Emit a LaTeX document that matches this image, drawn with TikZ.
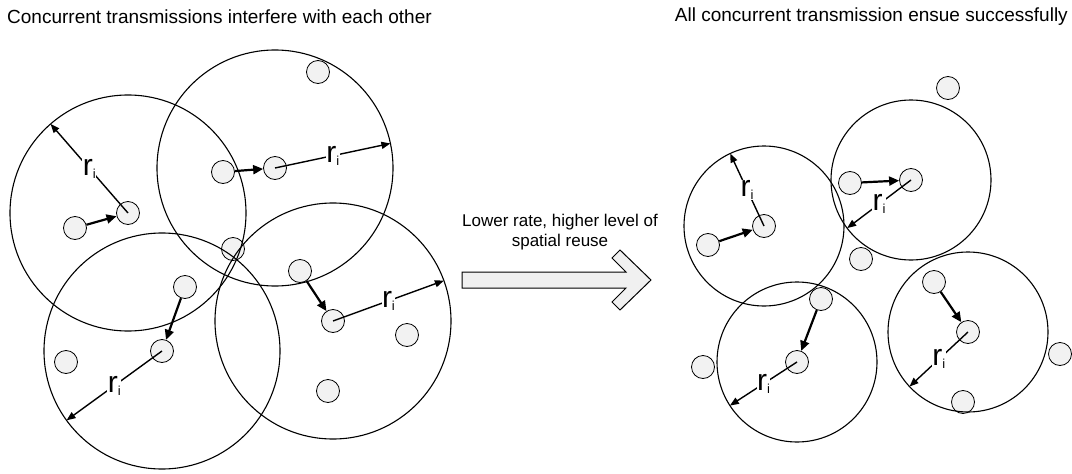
\documentclass[tikz,border=0pt]{standalone}
\usepackage{fontspec}
\setmainfont{Liberation Sans}
\usetikzlibrary{arrows.meta,calc}

% range label r_i
\newcommand{\rangelbl}{{\fontsize{30}{30}\selectfont r}\raisebox{-3pt}{\fontsize{13}{13}\selectfont i}}

\tikzset{
    station/.style={circle, draw, line width=0.8pt, fill=gray!10, minimum size=23pt, inner sep=0pt},
    rangecircle/.style={line width=1.1pt},
    link/.style={-{Triangle[length=10pt,width=9pt]}, line width=2.2pt},
    rangearrow/.style={-{Triangle[length=9pt,width=7pt]}, line width=1.4pt},
    rlabel/.style={fill=white, inner sep=0.5pt},
}

\begin{document}
\begin{tikzpicture}[x=1pt, y=-1pt]
    \useasboundingbox (0,0) rectangle (1072,474);

    % Titles
    \node[anchor=west, inner sep=0pt, font=\fontsize{19}{22}\selectfont] (ttlL) at (7,17) {Concurrent transmissions interfere with each other};
    \node[anchor=east, inner sep=0pt, font=\fontsize{19}{22}\selectfont] (ttlR) at (1068,17) {All concurrent transmission ensue successfully};

    % Left: stations
    \node[station] (L1) at (318,72) {};
    \node[station] (L2) at (223,172) {};
    \node[station] (L3) at (275,168) {};
    \node[station] (L4) at (128,213) {};
    \node[station] (L5) at (75,228) {};
    \node[station] (L6) at (233,249) {};
    \node[station] (L7) at (185,287) {};
    \node[station] (L8) at (162,351) {};
    \node[station] (L9) at (66,362) {};
    \node[station] (L10) at (300,271) {};
    \node[station] (L11) at (333,321) {};
    \node[station] (L12) at (407,335) {};
    \node[station] (L13) at (328,391) {};

    % Left: ranges (they overlap)
    \draw[rangecircle] (L4) circle[radius=118pt];
    \draw[rangecircle] (L3) circle[radius=118pt];
    \draw[rangecircle] (L8) circle[radius=118pt];
    \draw[rangecircle] (L11) circle[radius=118pt];

    % Left: transmissions
    \draw[link] (L5) -- (L4);
    \draw[link] (L2) -- (L3);
    \draw[link] (L7) -- (L8);
    \draw[link] (L10) -- (L11);

    % Left: range arrows
    \draw[rangearrow] (L4.center) -- ($(L4)+(229:118)$) node[rlabel, midway] (rA) {\rangelbl};
    \draw[rangearrow] (L3.center) -- ($(L3)+(348:118)$) node[rlabel, midway] (rB) {\rangelbl};
    \draw[rangearrow] (L8.center) -- ($(L8)+(144:118)$) node[rlabel, midway] (rC) {\rangelbl};
    \draw[rangearrow] (L11.center) -- ($(L11)+(340:118)$) node[rlabel, midway] (rD) {\rangelbl};

    % Middle: block arrow and caption
    \node[align=center, inner sep=0pt, font=\fontsize{17}{20}\selectfont] (cap) at (560,232) {Lower rate, higher level of\\ spatial reuse};
    \draw[line width=1pt, fill=gray!12, line join=miter]
        (462,272) -- (626,272) -- (612,258) -- (620,250) -- (651,280)
        -- (620,310) -- (612,302) -- (626,288) -- (462,288) -- cycle;

    % Right: stations
    \node[station] (R1) at (948,88) {};
    \node[station] (R2) at (850,183) {};
    \node[station] (R3) at (911,180) {};
    \node[station] (R4) at (764,226) {};
    \node[station] (R5) at (708,245) {};
    \node[station] (R6) at (861,259) {};
    \node[station] (R7) at (821,299) {};
    \node[station] (R8) at (797,362) {};
    \node[station] (R9) at (703,367) {};
    \node[station] (R10) at (934,282) {};
    \node[station] (R11) at (968,332) {};
    \node[station] (R12) at (1060,354) {};
    \node[station] (R13) at (963,402) {};

    % Right: smaller ranges
    \draw[rangecircle] (R4) circle[radius=80pt];
    \draw[rangecircle] (R3) circle[radius=80pt];
    \draw[rangecircle] (R8) circle[radius=80pt];
    \draw[rangecircle] (R11) circle[radius=80pt];

    % Right: transmissions
    \draw[link] (R5) -- (R4);
    \draw[link] (R2) -- (R3);
    \draw[link] (R7) -- (R8);
    \draw[link] (R10) -- (R11);

    % Right: range arrows
    \draw[rangearrow] (R4.center) -- ($(R4)+(245:80)$) node[rlabel, midway] (rE) {\rangelbl};
    \draw[rangearrow] (R3.center) -- ($(R3)+(143:80)$) node[rlabel, midway] (rF) {\rangelbl};
    \draw[rangearrow] (R8.center) -- ($(R8)+(147:80)$) node[rlabel, midway] (rG) {\rangelbl};
    \draw[rangearrow] (R11.center) -- ($(R11)+(137:80)$) node[rlabel, midway] (rH) {\rangelbl};
\end{tikzpicture}
\end{document}
